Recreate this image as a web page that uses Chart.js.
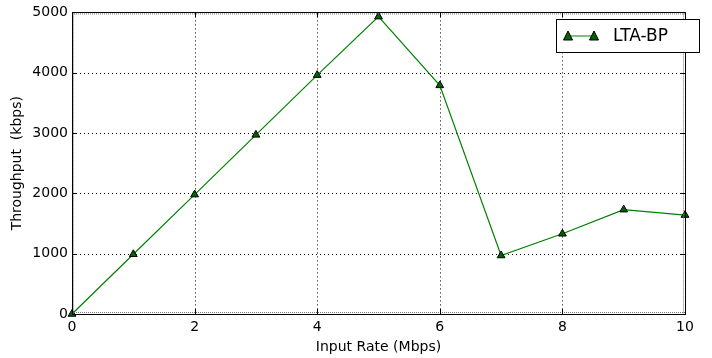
<!DOCTYPE html>
<html><head><meta charset="utf-8">
<script src="https://cdn.jsdelivr.net/npm/chart.js@4/dist/chart.umd.min.js"></script>
<style>html,body{margin:0;padding:0;background:#fff}#wrap{width:712px;height:358px}</style>
</head><body><div id="wrap"><canvas id="c" width="712" height="358"></canvas></div>
<script>
const inputRates = [0,1,2,3,4,5,6,7,8,9,10];
const throughput = [0,990,1980,2970,3960,4930,3790,970,1330,1730,1640];
const seriesLabel = 'LTA-BP';
const xTicks = [0,2,4,6,8,10];
const yTicks = [0,1000,2000,3000,4000,5000];
const xTitle = 'Input Rate (Mbps)';
const yTitle = 'Throughput  (kbps)';

const FONT = "'DejaVu Sans', sans-serif";

const decor = {
  id:'decor',
  beforeDatasetsDraw(chart){
    const {ctx, chartArea:a, scales:{x,y}} = chart;
    ctx.save();
    ctx.strokeStyle='#000'; ctx.lineWidth=1; ctx.setLineDash([1,3]);
    ctx.beginPath();
    xTicks.slice(1,-1).forEach(v=>{const p=Math.round(x.getPixelForValue(v))+0.5;ctx.moveTo(p,a.top);ctx.lineTo(p,a.bottom);});
    yTicks.slice(1,-1).forEach(v=>{const p=Math.round(y.getPixelForValue(v))+0.5;ctx.moveTo(a.left,p);ctx.lineTo(a.right,p);});
    ctx.stroke();
    ctx.restore();
  },
  afterDatasetsDraw(chart){
    const {ctx, chartArea:a, scales:{x,y}} = chart;
    ctx.save();
    ctx.strokeStyle='#777'; ctx.lineWidth=1; ctx.setLineDash([1,1]);
    ctx.beginPath();
    ctx.moveTo(a.left+1.5,a.top); ctx.lineTo(a.left+1.5,a.bottom);
    ctx.moveTo(a.right-1.5,a.top); ctx.lineTo(a.right-1.5,a.bottom);
    ctx.moveTo(a.left,a.top+1.5); ctx.lineTo(a.right,a.top+1.5);
    ctx.moveTo(a.left,a.bottom-1.5); ctx.lineTo(a.right,a.bottom-1.5);
    ctx.stroke();
    ctx.setLineDash([]);
    ctx.strokeStyle='#000';
    ctx.strokeRect(Math.round(a.left)+0.5,Math.round(a.top)+0.5,Math.round(a.right-a.left),Math.round(a.bottom-a.top));
    ctx.beginPath();
    xTicks.forEach(v=>{const p=Math.round(x.getPixelForValue(v))+0.5;ctx.moveTo(p,a.bottom);ctx.lineTo(p,a.bottom-5);ctx.moveTo(p,a.top);ctx.lineTo(p,a.top+5);});
    yTicks.forEach(v=>{const p=Math.round(y.getPixelForValue(v))+0.5;ctx.moveTo(a.left,p);ctx.lineTo(a.left+5,p);ctx.moveTo(a.right,p);ctx.lineTo(a.right-5,p);});
    ctx.stroke();
    const bx=556.5, by=19.5, bw=143, bh=33;
    ctx.fillStyle='#fff'; ctx.fillRect(bx,by,bw,bh);
    ctx.strokeStyle='#000'; ctx.strokeRect(bx,by,bw,bh);
    const ly=by+bh/2;
    ctx.strokeStyle='#008000'; ctx.lineWidth=1;
    ctx.beginPath(); ctx.moveTo(568,ly); ctx.lineTo(594,ly); ctx.stroke();
    [568,594].forEach(cx=>{
      ctx.beginPath(); ctx.moveTo(cx,ly-5); ctx.lineTo(cx+4.5,ly+4); ctx.lineTo(cx-4.5,ly+4); ctx.closePath();
      ctx.fillStyle='#006400'; ctx.fill(); ctx.strokeStyle='#000'; ctx.stroke();
    });
    ctx.fillStyle='#000'; ctx.font='17px '+FONT; ctx.textBaseline='middle'; ctx.textAlign='left';
    ctx.fillText(seriesLabel, 613, ly+1);
    ctx.restore();
  }
};

new Chart(document.getElementById('c'), {
  type:'line',
  data:{datasets:[{
    label:seriesLabel,
    data:inputRates.map((v,i)=>({x:v,y:throughput[i]})),
    borderColor:'#008000', borderWidth:1.2, tension:0,
    pointStyle:'triangle', pointRadius:4.5, pointBackgroundColor:'#006400',
    pointBorderColor:'#000', pointBorderWidth:1, clip:false
  }]},
  plugins:[decor],
  options:{
    responsive:false, animation:false, devicePixelRatio:1,
    layout:{padding:{left:0,top:12,right:27,bottom:0}},
    plugins:{legend:{display:false},tooltip:{enabled:false}},
    scales:{
      x:{type:'linear',min:0,max:10,
        afterBuildTicks(s){s.ticks=xTicks.map(v=>({value:v}));},
        afterFit(s){s.height=44;},
        grid:{display:false,drawTicks:false},border:{display:false},
        ticks:{color:'#000',font:{family:FONT,size:14},padding:5,maxRotation:0,autoSkip:false,callback:v=>String(v)},
        title:{display:true,text:xTitle,color:'#000',font:{family:FONT,size:14},padding:{top:0,bottom:2}}
      },
      y:{type:'linear',min:0,max:5000,
        afterBuildTicks(s){s.ticks=yTicks.map(v=>({value:v}));},
        afterFit(s){s.width=72;},
        grid:{display:false,drawTicks:false},border:{display:false},
        ticks:{color:'#000',font:{family:FONT,size:14},padding:4,autoSkip:false,callback:v=>String(v)},
        title:{display:true,text:yTitle,color:'#000',font:{family:FONT,size:14},padding:{top:9,bottom:0}}
      }
    }
  }
});
</script></body></html>
